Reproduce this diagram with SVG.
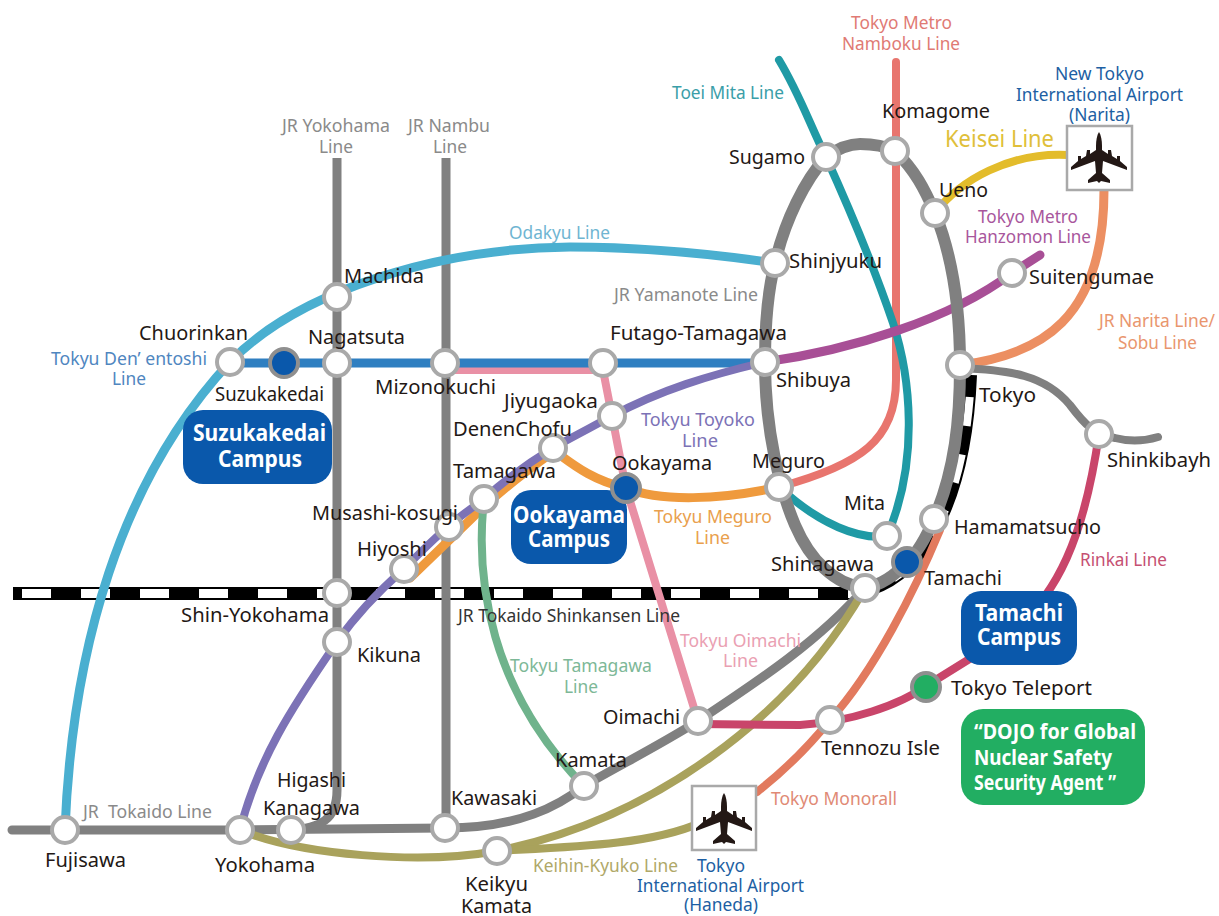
<svg xmlns="http://www.w3.org/2000/svg" xmlns:xlink="http://www.w3.org/1999/xlink" width="1219" height="916" viewBox="0 0 1219 916">
<style>
text{font-family:"Noto Sans","Open Sans","Liberation Sans",sans-serif;}
.st{font-size:20px;fill:#231815;}
.ln{font-size:18px;}
.w{font-size:23px;font-weight:700;fill:#fff;}
.gy{fill:#8a8a8a}.bl{fill:#1d5fa3}
.ln-path{fill:none;stroke-width:8;stroke-linecap:round;stroke-linejoin:round;}
.s{fill:#fff;stroke:#a9a9a9;stroke-width:4;}
.sb{fill:#0a58ab;stroke:#8f8f8f;stroke-width:4;}
.sg{fill:#22ae62;stroke:#8f8f8f;stroke-width:4;}
.box{fill:#0a58ab;}
.air{fill:#fff;stroke:#a9a9a9;stroke-width:2.5;}
</style>
<defs>
<path id="plane" fill="#231815" d="M0 -26C2 -23 3 -18 3 -12L3 -8L9 -4L9 -8L12 -8L13 -2L18 1L18 -2L21 -2L21 3L28 9L28 12L4 3L3 15L11 22L11 25L2 23L0 25L-2 23L-11 25L-11 22L-3 15L-4 3L-28 12L-28 9L-21 3L-21 -2L-18 -2L-18 1L-13 -2L-12 -8L-9 -8L-9 -4L-3 -8L-3 -12C-3 -18 -2 -23 0 -26Z"/>
</defs>
<rect width="1219" height="916" fill="#fff"/>
<g id="connectors">
<path id="shinkansen-border" d="M13 593.500H865" fill="none" stroke="#000" stroke-width="13"/>
<path id="shinkansen-dash" d="M22 593.500H865" fill="none" stroke="#fff" stroke-width="9" stroke-dasharray="29 30"/>
<path id="shinkansen-curve" d="M971 375C966 500 925 572 870 590" fill="none" stroke="#000" stroke-width="12"/>
<path id="shinkansen-curve-dash" d="M971 375C966 500 925 572 870 590" fill="none" stroke="#fff" stroke-width="8" stroke-dasharray="29 29" stroke-dashoffset="36"/>
<path class="ln-path" stroke="#808080" d="M337 158V790C337 820 320 828 290 830" style="stroke-width:9;stroke-linecap:butt"/>
<path class="ln-path" stroke="#808080" d="M446 158V828" style="stroke-width:9;stroke-linecap:butt"/>
<path class="ln-path" stroke="#4aafd0" d="M65 830C72 650 120 480 230 362C300 290 440 248 570 247C650 247 720 255 775 263" style="stroke-width:9"/>
<path class="ln-path" stroke="#e990a5" d="M445 370H603L612 416L626 488L698 721"/>
<path class="ln-path" stroke="#2f7fc1" d="M230 363H765" style="stroke-width:9"/>
<path class="ln-path" stroke="#ef9a3d" d="M779 487C720 500 660 502 626 488C590 480 570 462 553 450" style="stroke-width:9"/>
<path class="ln-path" stroke="#ef9a3d" d="M553 452C520 475 490 500 470 520L410 578" style="stroke-width:9"/>
<path class="ln-path" stroke="#7c72b6" d="M765 362C710 375 660 390 612 416C590 428 570 438 553 448C530 462 505 480 484 499C472 508 460 516 448 527C432 540 418 555 404 569C380 590 358 612 337 642C290 710 258 760 240 830"/>
<path class="ln-path" stroke="#6fb38c" d="M484 499C475 580 490 690 584 786"/>
<path class="ln-path" stroke="#808080" d="M12 830H240L445 828C520 828 560 805 584 786C620 765 660 745 698 721C760 680 820 640 865 588" style="stroke-width:9"/>
<path class="ln-path" stroke="#a9a25c" d="M240 830C300 855 420 865 497 851"/>
<path class="ln-path" stroke="#a9a25c" d="M497 851C650 820 790 720 865 588"/>
<path class="ln-path" stroke="#a9a25c" d="M497 851C570 847 650 845 700 823"/>
<path class="ln-path" stroke="#e27a5e" d="M940 530C915 590 875 670 830 720C810 745 785 770 757 792"/>
<path class="ln-path" stroke="#c9456a" d="M698 724L800 725C850 722 900 705 926 686L1000 640C1060 600 1085 530 1099 434"/>
<path class="ln-path" stroke="#e8756e" d="M896 62V380C896 440 860 465 779 487"/>
<path class="ln-path" stroke="#1f9aa5" d="M779 60C800 95 810 125 826 157C850 210 875 270 893 323C910 375 920 460 887 536C860 540 820 525 779 487"/>
<path class="ln-path" stroke="#a84f96" d="M765 362C850 350 950 320 1012 273L1040 255" style="stroke-width:9"/>
<path class="ln-path" stroke="#ec8f62" d="M960 365C1040 355 1104 320 1104 190" style="stroke-width:9"/>
<path class="ln-path" stroke="#e3bc2b" d="M935 213C960 180 1010 152 1068 155"/>
<path class="ln-path" stroke="#808080" d="M960 368C1010 370 1045 375 1070 405C1085 425 1095 435 1115 438C1130 442 1145 441 1158 437"/>
<path id="yamanote" class="ln-path" stroke="#808080" style="stroke-width:12" d="M826 157C840 147 850 144 860 144C875 144 885 146 895 151C915 170 925 190 935 213C950 250 960 300 960 365C960 420 955 470 934 519C925 540 915 555 907 562C893 578 880 585 865 588C835 585 810 560 795 525C780 490 765 430 765 362C765 320 768 290 775 263C785 220 805 180 826 157Z"/>
</g>
<g id="campus-suzukakedai"><rect class="box" x="183" y="410" width="149" height="74" rx="20"/><text class="w" x="193" y="441" textLength="133" lengthAdjust="spacingAndGlyphs">Suzukakedai</text><text class="w" x="218" y="467" textLength="84" lengthAdjust="spacingAndGlyphs">Campus</text></g>
<g id="campus-ookayama"><rect class="box" x="511" y="490" width="116" height="74" rx="20"/><text class="w" x="513" y="523" textLength="112" lengthAdjust="spacingAndGlyphs">Ookayama</text><text class="w" x="528" y="547" textLength="82" lengthAdjust="spacingAndGlyphs">Campus</text></g>
<g id="campus-tamachi"><rect class="box" x="961" y="591" width="116" height="74" rx="20"/><text class="w" x="975" y="621" textLength="88" lengthAdjust="spacingAndGlyphs">Tamachi</text><text class="w" x="977" y="645" textLength="84" lengthAdjust="spacingAndGlyphs">Campus</text></g>
<g id="dojo"><rect x="961" y="709" width="184" height="96" rx="22" fill="#22ae62"/><text class="w" style="font-size:21px" x="974" y="739" textLength="162" lengthAdjust="spacingAndGlyphs">“DOJO for Global</text><text class="w" style="font-size:21px" x="974" y="765" textLength="138" lengthAdjust="spacingAndGlyphs">Nuclear Safety</text><text class="w" style="font-size:21px" x="974" y="790" textLength="142" lengthAdjust="spacingAndGlyphs">Security Agent ”</text></g>
<g id="airport-narita"><rect class="air" x="1067" y="126" width="65" height="64"/><use xlink:href="#plane" href="#plane" x="1099" y="158"/><text class="ln bl" x="1055" y="80" textLength="89" lengthAdjust="spacingAndGlyphs">New Tokyo</text><text class="ln bl" x="1016" y="101" textLength="167" lengthAdjust="spacingAndGlyphs">International Airport</text><text class="ln bl" x="1069" y="121" textLength="61" lengthAdjust="spacingAndGlyphs">(Narita)</text></g>
<g id="airport-haneda"><rect class="air" x="692" y="786" width="64" height="64"/><use xlink:href="#plane" href="#plane" x="724" y="819"/><text class="ln bl" x="697" y="872" textLength="48" lengthAdjust="spacingAndGlyphs">Tokyo</text><text class="ln bl" x="637" y="892" textLength="167" lengthAdjust="spacingAndGlyphs">International Airport</text><text class="ln bl" x="684" y="911" textLength="74" lengthAdjust="spacingAndGlyphs">(Haneda)</text></g>
<g id="line-labels">
<g fill="#e07a74"><text class="ln" x="851" y="29" textLength="101" lengthAdjust="spacingAndGlyphs">Tokyo Metro</text><text class="ln" x="842" y="50" textLength="118" lengthAdjust="spacingAndGlyphs">Namboku Line</text></g>
<text class="ln" fill="#3a9ea8" x="672" y="99" textLength="112" lengthAdjust="spacingAndGlyphs">Toei Mita Line</text>
<text fill="#e0bf3a" style="font-size:23px" x="945" y="147" textLength="109" lengthAdjust="spacingAndGlyphs">Keisei Line</text>
<g fill="#a8569c"><text class="ln" x="978" y="223" textLength="100" lengthAdjust="spacingAndGlyphs">Tokyo Metro</text><text class="ln" x="965" y="243" textLength="126" lengthAdjust="spacingAndGlyphs">Hanzomon Line</text></g>
<g fill="#e9966e"><text class="ln" x="1099" y="327" textLength="116" lengthAdjust="spacingAndGlyphs">JR Narita Line/</text><text class="ln" x="1118" y="349" textLength="79" lengthAdjust="spacingAndGlyphs">Sobu Line</text></g>
<text class="ln gy" x="614" y="301" textLength="144" lengthAdjust="spacingAndGlyphs">JR Yamanote Line</text>
<text class="ln gy" x="282" y="132" textLength="108" lengthAdjust="spacingAndGlyphs">JR Yokohama</text><text class="ln gy" x="319" y="153" textLength="34" lengthAdjust="spacingAndGlyphs">Line</text>
<text class="ln gy" x="408" y="132" textLength="82" lengthAdjust="spacingAndGlyphs">JR Nambu</text><text class="ln gy" x="433" y="153" textLength="34" lengthAdjust="spacingAndGlyphs">Line</text>
<text class="ln" fill="#6fb5d2" x="509" y="239" textLength="101" lengthAdjust="spacingAndGlyphs">Odakyu Line</text>
<g fill="#4f86bf"><text class="ln" x="51" y="365" textLength="156" lengthAdjust="spacingAndGlyphs">Tokyu Den’ entoshi</text><text class="ln" x="112" y="385" textLength="34" lengthAdjust="spacingAndGlyphs">Line</text></g>
<g fill="#7c72b6"><text class="ln" x="641" y="426" textLength="114" lengthAdjust="spacingAndGlyphs">Tokyu Toyoko</text><text class="ln" x="682" y="447" textLength="36" lengthAdjust="spacingAndGlyphs">Line</text></g>
<g fill="#e9a04d"><text class="ln" x="654" y="523" textLength="118" lengthAdjust="spacingAndGlyphs">Tokyu Meguro</text><text class="ln" x="695" y="544" textLength="35" lengthAdjust="spacingAndGlyphs">Line</text></g>
<text class="ln" fill="#c55072" x="1080" y="566" textLength="87" lengthAdjust="spacingAndGlyphs">Rinkai Line</text>
<text class="ln" fill="#333" x="458" y="622" textLength="222" lengthAdjust="spacingAndGlyphs">JR Tokaido Shinkansen Line</text>
<g fill="#eaa0b2"><text class="ln" x="680" y="647" textLength="121" lengthAdjust="spacingAndGlyphs">Tokyu Oimachi</text><text class="ln" x="723" y="667" textLength="35" lengthAdjust="spacingAndGlyphs">Line</text></g>
<g fill="#7db897"><text class="ln" x="510" y="672" textLength="142" lengthAdjust="spacingAndGlyphs">Tokyu Tamagawa</text><text class="ln" x="564" y="693" textLength="34" lengthAdjust="spacingAndGlyphs">Line</text></g>
<text class="ln gy" x="83" y="818" textLength="129" lengthAdjust="spacingAndGlyphs" xml:space="preserve">JR  Tokaido Line</text>
<text class="ln" fill="#b0a868" x="533" y="872" textLength="145" lengthAdjust="spacingAndGlyphs">Keihin-Kyuko Line</text>
<text class="ln" fill="#e08a75" x="771" y="805" textLength="126" lengthAdjust="spacingAndGlyphs">Tokyo Monorall</text>
</g>
<g id="st-fujisawa"><circle class="s" cx="65" cy="830" r="13"/><text class="st" x="45" y="867" textLength="81" lengthAdjust="spacingAndGlyphs">Fujisawa</text></g>
<g id="st-yokohama"><circle class="s" cx="240" cy="830" r="13"/><text class="st" x="215" y="872" textLength="100" lengthAdjust="spacingAndGlyphs">Yokohama</text></g>
<g id="st-higashi-kanagawa"><circle class="s" cx="291" cy="830" r="13"/><text class="st" x="277" y="787" textLength="69" lengthAdjust="spacingAndGlyphs">Higashi</text><text class="st" x="263" y="815" textLength="97" lengthAdjust="spacingAndGlyphs">Kanagawa</text></g>
<g id="st-kawasaki"><circle class="s" cx="445" cy="828" r="13"/><text class="st" x="451" y="805" textLength="86" lengthAdjust="spacingAndGlyphs">Kawasaki</text></g>
<g id="st-keikyu-kamata"><circle class="s" cx="497" cy="851" r="13"/><text class="st" x="465" y="891" textLength="63" lengthAdjust="spacingAndGlyphs">Keikyu</text><text class="st" x="461" y="913" textLength="71" lengthAdjust="spacingAndGlyphs">Kamata</text></g>
<g id="st-kamata"><circle class="s" cx="584" cy="786" r="13"/><text class="st" x="555" y="767" textLength="72" lengthAdjust="spacingAndGlyphs">Kamata</text></g>
<g id="st-oimachi"><circle class="s" cx="698" cy="721" r="13"/><text class="st" x="603" y="724" textLength="77" lengthAdjust="spacingAndGlyphs">Oimachi</text></g>
<g id="st-tennozu"><circle class="s" cx="830" cy="720" r="13"/><text class="st" x="821" y="755" textLength="119" lengthAdjust="spacingAndGlyphs">Tennozu Isle</text></g>
<g id="st-teleport"><circle class="sg" cx="926" cy="687" r="14"/><text class="st" x="951" y="695" textLength="141" lengthAdjust="spacingAndGlyphs">Tokyo Teleport</text></g>
<g id="st-shinagawa"><circle class="s" cx="865" cy="588" r="13"/><text class="st" x="771" y="571" textLength="103" lengthAdjust="spacingAndGlyphs">Shinagawa</text></g>
<g id="st-tamachi"><circle class="sb" cx="907" cy="562" r="14"/><text class="st" x="924" y="585" textLength="78" lengthAdjust="spacingAndGlyphs">Tamachi</text></g>
<g id="st-hamamatsucho"><circle class="s" cx="934" cy="519" r="13"/><text class="st" x="954" y="534" textLength="147" lengthAdjust="spacingAndGlyphs">Hamamatsucho</text></g>
<g id="st-mita"><circle class="s" cx="887" cy="536" r="13"/><text class="st" x="844" y="510" textLength="41" lengthAdjust="spacingAndGlyphs">Mita</text></g>
<g id="st-meguro"><circle class="s" cx="779" cy="487" r="13"/><text class="st" x="752" y="468" textLength="73" lengthAdjust="spacingAndGlyphs">Meguro</text></g>
<g id="st-ookayama"><circle class="sb" cx="626" cy="488" r="14"/><text class="st" x="612" y="470" textLength="100" lengthAdjust="spacingAndGlyphs">Ookayama</text></g>
<g id="st-jiyugaoka"><circle class="s" cx="612" cy="416" r="13"/><text class="st" x="504" y="408" textLength="94" lengthAdjust="spacingAndGlyphs">Jiyugaoka</text></g>
<g id="st-denenchofu"><circle class="s" cx="553" cy="448" r="13"/><text class="st" x="453" y="436" textLength="119" lengthAdjust="spacingAndGlyphs">DenenChofu</text></g>
<g id="st-tamagawa"><circle class="s" cx="484" cy="499" r="13"/><text class="st" x="453" y="478" textLength="103" lengthAdjust="spacingAndGlyphs">Tamagawa</text></g>
<g id="st-musashi-kosugi"><circle class="s" cx="449" cy="527" r="13"/><text class="st" x="312" y="520" textLength="146" lengthAdjust="spacingAndGlyphs">Musashi-kosugi</text></g>
<g id="st-hiyoshi"><circle class="s" cx="404" cy="569" r="13"/><text class="st" x="357" y="556" textLength="70" lengthAdjust="spacingAndGlyphs">Hiyoshi</text></g>
<g id="st-shin-yokohama"><circle class="s" cx="337" cy="593" r="13"/><text class="st" x="181" y="622" textLength="148" lengthAdjust="spacingAndGlyphs">Shin-Yokohama</text></g>
<g id="st-kikuna"><circle class="s" cx="337" cy="642" r="13"/><text class="st" x="357" y="662" textLength="64" lengthAdjust="spacingAndGlyphs">Kikuna</text></g>
<g id="st-chuorinkan"><circle class="s" cx="230" cy="362" r="13"/><text class="st" x="139" y="340" textLength="109" lengthAdjust="spacingAndGlyphs">Chuorinkan</text></g>
<g id="st-suzukakedai"><circle class="sb" cx="284" cy="363" r="14"/><text class="st" x="215" y="401" textLength="109" lengthAdjust="spacingAndGlyphs">Suzukakedai</text></g>
<g id="st-nagatsuta"><circle class="s" cx="337" cy="363" r="13"/><text class="st" x="308" y="344" textLength="97" lengthAdjust="spacingAndGlyphs">Nagatsuta</text></g>
<g id="st-mizonokuchi"><circle class="s" cx="445" cy="363" r="13"/><text class="st" x="375" y="394" textLength="121" lengthAdjust="spacingAndGlyphs">Mizonokuchi</text></g>
<g id="st-futago"><circle class="s" cx="603" cy="363" r="13"/><text class="st" x="610" y="340" textLength="177" lengthAdjust="spacingAndGlyphs">Futago-Tamagawa</text></g>
<g id="st-shibuya"><circle class="s" cx="765" cy="362" r="13"/><text class="st" x="776" y="387" textLength="75" lengthAdjust="spacingAndGlyphs">Shibuya</text></g>
<g id="st-machida"><circle class="s" cx="337" cy="297" r="13"/><text class="st" x="344" y="283" textLength="80" lengthAdjust="spacingAndGlyphs">Machida</text></g>
<g id="st-shinjyuku"><circle class="s" cx="775" cy="263" r="13"/><text class="st" x="789" y="268" textLength="93" lengthAdjust="spacingAndGlyphs">Shinjyuku</text></g>
<g id="st-sugamo"><circle class="s" cx="826" cy="157" r="13"/><text class="st" x="729" y="164" textLength="76" lengthAdjust="spacingAndGlyphs">Sugamo</text></g>
<g id="st-komagome"><circle class="s" cx="895" cy="151" r="13"/><text class="st" x="882" y="118" textLength="108" lengthAdjust="spacingAndGlyphs">Komagome</text></g>
<g id="st-ueno"><circle class="s" cx="935" cy="213" r="13"/><text class="st" x="939" y="197" textLength="49" lengthAdjust="spacingAndGlyphs">Ueno</text></g>
<g id="st-suitengumae"><circle class="s" cx="1012" cy="273" r="13"/><text class="st" x="1029" y="284" textLength="125" lengthAdjust="spacingAndGlyphs">Suitengumae</text></g>
<g id="st-tokyo"><circle class="s" cx="960" cy="365" r="13"/><text class="st" x="979" y="402" textLength="57" lengthAdjust="spacingAndGlyphs">Tokyo</text></g>
<g id="st-shinkibayh"><circle class="s" cx="1099" cy="434" r="13"/><text class="st" x="1107" y="467" textLength="104" lengthAdjust="spacingAndGlyphs">Shinkibayh</text></g>
</svg>
